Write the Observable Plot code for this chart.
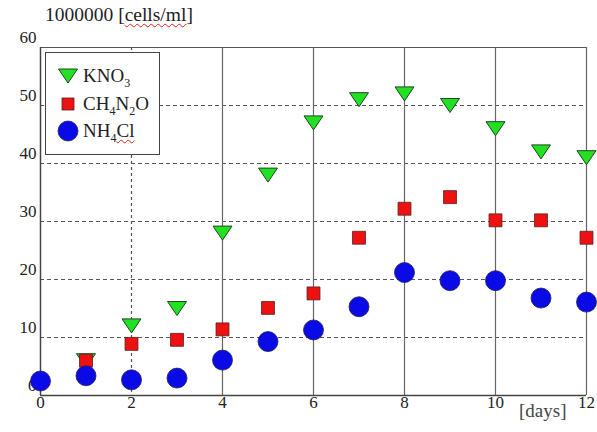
<!DOCTYPE html>
<html><head><meta charset="utf-8">
<script src="https://cdn.jsdelivr.net/npm/d3@7"></script>
<script src="https://cdn.jsdelivr.net/npm/@observablehq/plot@0.6"></script>
<style>
body{margin:0;background:#fff;font-family:"Liberation Serif","Times New Roman",serif;}
#wrap{position:relative;width:597px;height:432px;}
#title{position:absolute;left:45px;top:4px;font-size:19.5px;color:#222;white-space:nowrap;}
#xlab{position:absolute;left:519px;top:400px;font-size:19px;color:#444;}
.spell{text-decoration:underline wavy #e02020;text-decoration-thickness:1px;text-underline-offset:2px;}
#legend{position:absolute;left:45px;top:52px;width:113px;height:101px;border:1.5px solid #444;background:#fff;}
.row{position:absolute;left:0;height:24px;font-size:19px;color:#222;}
.row svg{position:absolute;left:10px;top:0;}
.row span{position:absolute;left:37px;top:0;white-space:nowrap;line-height:24px;}
sub{font-size:12px;vertical-align:-5px;line-height:0;}
#chart svg text{font-family:"Liberation Serif","Times New Roman",serif !important;}
</style></head>
<body>
<div id="wrap">
  <div id="chart"></div>
  <div id="title">1000000 [<span class="spell">cells/ml</span>]</div>
  <div id="xlab">[days]</div>
  <div id="legend">
    <div class="row" style="top:11px"><svg width="24" height="24"><path d="M2.5,5 L21.5,5 L12,19 Z" fill="#22e022" stroke="#224422" stroke-width="1"/></svg><span>KNO<sub>3</sub></span></div>
    <div class="row" style="top:39px"><svg width="24" height="24"><rect x="6" y="6" width="12" height="12" fill="#ee1111" stroke="#552222" stroke-width="0.8"/></svg><span>CH<sub>4</sub>N<sub>2</sub>O</span></div>
    <div class="row" style="top:66px"><svg width="24" height="24"><circle cx="12" cy="12" r="10" fill="#0a0ae6" stroke="#222255" stroke-width="0.8"/></svg><span>NH<sub>4</sub><span class="spell" style="position:static">Cl</span></span></div>
  </div>
</div>
<script>
const days   = [0, 1, 2, 3, 4, 5, 6, 7, 8, 9, 10, 11, 12];
const kno3   = [null, 6, 12, 15, 28, 38, 47, 51, 52, 50, 46, 42, 41];
const ch4n2o = [null, 6, 8.9, 9.6, 11.4, 15.1, 17.6, 27.2, 32.2, 34.2, 30.2, 30.2, 27.2];
const nh4cl  = [2.5, 3.4, 2.7, 3.0, 6.1, 9.3, 11.3, 15.3, 21.2, 19.8, 19.8, 16.8, 16.1];
const xTicks = [0, 2, 4, 6, 8, 10, 12];
const yTicks = [0, 10, 20, 30, 40, 50, 60];
const dashedGrid = [10, 20, 30, 40, 50];
const solidV = [4, 6, 8, 10, 12];
const dottedV = [2];

const toRows = arr => days.map((d, i) => ({day: d, v: arr[i]})).filter(r => r.v != null);

const triDown = {
  draw(ctx, size) {
    const r = Math.sqrt(size / Math.PI);
    ctx.moveTo(-r * 0.95, -r * 0.7);
    ctx.lineTo(r * 0.95, -r * 0.7);
    ctx.lineTo(0, r * 0.7);
    ctx.closePath();
  }
};

const serif = "Liberation Serif, Times New Roman, serif";

const chart = Plot.plot({
  width: 597,
  height: 432,
  marginLeft: 40,
  marginRight: 11,
  marginTop: 47,
  marginBottom: 37,
  style: {fontFamily: serif, fontSize: "17px", color: "#222", background: "#fff"},
  x: {domain: [0, 12], label: null},
  y: {domain: [0, 60], label: null},
  marks: [
    Plot.ruleY(dashedGrid, {stroke: "#555", strokeWidth: 1.2, strokeDasharray: "4,3"}),
    Plot.ruleX(solidV, {stroke: "#666", strokeWidth: 1.2}),
    Plot.ruleX(dottedV, {stroke: "#555", strokeWidth: 1.2, strokeDasharray: "3,3"}),
    Plot.ruleY([60], {stroke: "#555", strokeWidth: 1.2}),
    Plot.ruleY([0], {stroke: "#444", strokeWidth: 1.5}),
    Plot.ruleX([0], {stroke: "#444", strokeWidth: 1.5}),
    Plot.axisY(yTicks, {tickSize: 0, tickPadding: 4, dy: -10, fontSize: 17, fontFamily: serif, fill: "#222"}),
    Plot.axisX(xTicks, {tickSize: 0, tickPadding: 0, fontSize: 17, fontFamily: serif, fill: "#222"}),
    Plot.dot(toRows(kno3), {x: "day", y: "v", symbol: triDown, r: 10, fill: "#22e022", stroke: "#224422", strokeWidth: 1}),
    Plot.dot(toRows(ch4n2o), {x: "day", y: "v", symbol: "square", r: 7.3, fill: "#ee1111", stroke: "#552222", strokeWidth: 0.8}),
    Plot.dot(toRows(nh4cl), {x: "day", y: "v", symbol: "circle", r: 10, fill: "#0a0ae6", stroke: "#222255", strokeWidth: 0.8})
  ]
});
document.getElementById("chart").appendChild(chart);
</script>
</body></html>
